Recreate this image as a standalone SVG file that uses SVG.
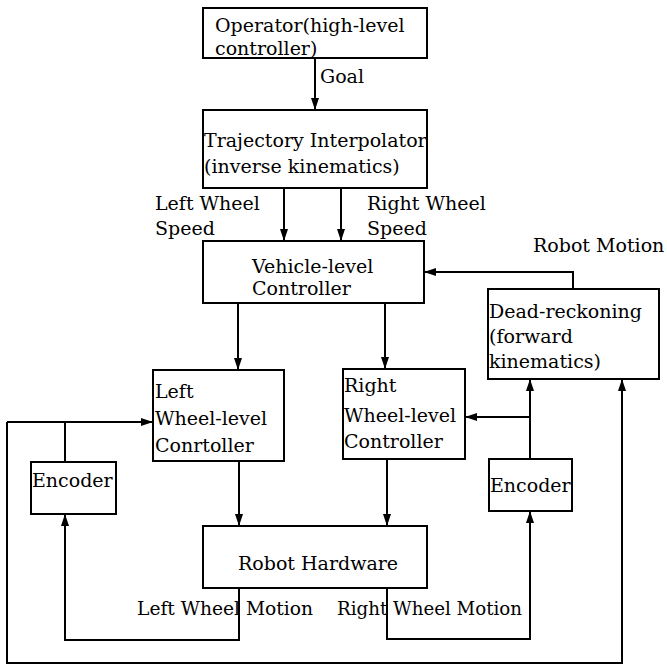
<svg xmlns="http://www.w3.org/2000/svg" width="667" height="668" viewBox="0 0 667 668">
<style>
.box{fill:#fff;stroke:#000;stroke-width:2}
.ln{fill:none;stroke:#000;stroke-width:2}
text{font-family:"DejaVu Serif","Liberation Serif",serif;font-size:19px;fill:#000}
</style>
<defs>
<marker id="ah" viewBox="0 0 12 8" refX="12" refY="4" markerWidth="12" markerHeight="8" markerUnits="userSpaceOnUse" orient="auto">
<path d="M0,0 L12,4 L0,8 Z" fill="#000"/>
</marker>
</defs>
<rect width="667" height="668" fill="#fff"/>
<g id="connectors">
<path class="ln" d="M315,58 V110" marker-end="url(#ah)"/>
<path class="ln" d="M284,188 V241" marker-end="url(#ah)"/>
<path class="ln" d="M341,188 V241" marker-end="url(#ah)"/>
<path class="ln" d="M573,289 V272 H424" marker-end="url(#ah)"/>
<path class="ln" d="M238,303 V370" marker-end="url(#ah)"/>
<path class="ln" d="M385,303 V369" marker-end="url(#ah)"/>
<path class="ln" d="M239,461 V526" marker-end="url(#ah)"/>
<path class="ln" d="M387,459 V526" marker-end="url(#ah)"/>
<path class="ln" d="M239,588 V640 H65 V514" marker-end="url(#ah)"/>
<path class="ln" d="M65,462 V422"/>
<path class="ln" d="M7,422 H153" marker-end="url(#ah)"/>
<path class="ln" d="M7,422 V663 H622 V379" marker-end="url(#ah)"/>
<path class="ln" d="M387,588 V639 H530 V511" marker-end="url(#ah)"/>
<path class="ln" d="M530,459 V379" marker-end="url(#ah)"/>
<path class="ln" d="M530,417 H465" marker-end="url(#ah)"/>
</g>
<g id="labels">
<text x="320" y="83">Goal</text>
<text x="155" y="210">Left Wheel</text>
<text x="155" y="235">Speed</text>
<text x="367" y="210">Right Wheel</text>
<text x="367" y="235">Speed</text>
<text x="533" y="252">Robot Motion</text>
<text x="137" y="615" textLength="176" lengthAdjust="spacingAndGlyphs">Left Wheel Motion</text>
<text x="337" y="615" textLength="185" lengthAdjust="spacingAndGlyphs">Right Wheel Motion</text>
</g>
<g id="operator">
<rect class="box" x="203" y="8" width="224" height="50"/>
<text x="215" y="32">Operator(high-level</text>
<text x="215" y="55">controller)</text>
</g>
<g id="trajectory">
<rect class="box" x="203" y="110" width="224" height="78"/>
<text x="204" y="147">Trajectory Interpolator</text>
<text x="204" y="173">(inverse kinematics)</text>
</g>
<g id="vehicle">
<rect class="box" x="203" y="241" width="221" height="62"/>
<text x="252" y="273">Vehicle-level</text>
<text x="252" y="295">Controller</text>
</g>
<g id="deadreckoning">
<rect class="box" x="488" y="289" width="171" height="90"/>
<text x="489" y="318">Dead-reckoning</text>
<text x="489" y="343">(forward</text>
<text x="489" y="368">kinematics)</text>
</g>
<g id="leftwheel">
<rect class="box" x="153" y="370" width="131" height="91"/>
<text x="155" y="398">Left</text>
<text x="155" y="425">Wheel-level</text>
<text x="155" y="452">Conrtoller</text>
</g>
<g id="rightwheel">
<rect class="box" x="343" y="369" width="122" height="90"/>
<text x="344" y="392">Right</text>
<text x="344" y="422">Wheel-level</text>
<text x="344" y="448">Controller</text>
</g>
<g id="leftencoder">
<rect class="box" x="31" y="462" width="85" height="52"/>
<text x="32" y="487">Encoder</text>
</g>
<g id="rightencoder">
<rect class="box" x="489" y="459" width="83" height="52"/>
<text x="490" y="492">Encoder</text>
</g>
<g id="hardware">
<rect class="box" x="203" y="526" width="224" height="62"/>
<text x="238" y="570">Robot Hardware</text>
</g>
</svg>
